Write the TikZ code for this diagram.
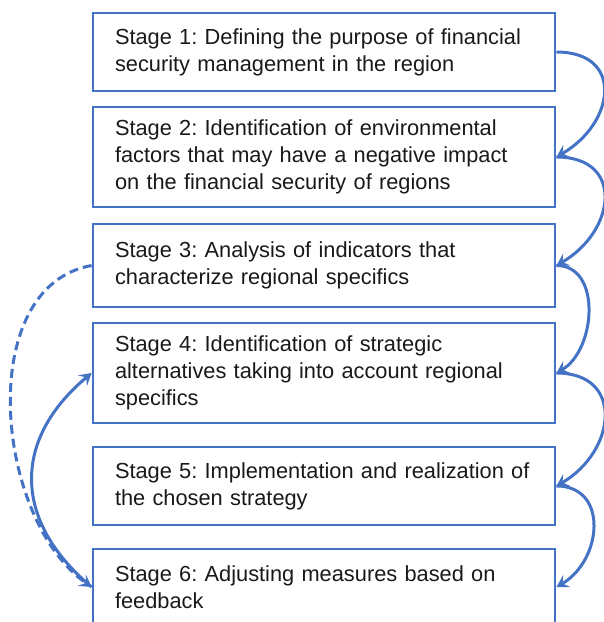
\documentclass[tikz,border=0pt]{standalone}
\usepackage{xcolor}
\usepackage{fontspec}
\setmainfont{Liberation Sans}
\usepackage{tikz}
\usetikzlibrary{arrows.meta}
\definecolor{stageblue}{RGB}{68, 114, 196}

\begin{document}
\frenchspacing
\begin{tikzpicture}[
    x=1pt, y=1pt,
    box/.style={rectangle, draw=stageblue, line width=2.8pt, minimum width=462pt, text width=418pt, inner xsep=22pt, align=left, text=black!90, font=\fontsize{21.8}{27}\selectfont},
    arrow/.style={-{Stealth[length=12pt, width=14pt, inset=5pt]}, draw=stageblue, line width=3pt}
]
    \useasboundingbox (0,0) rectangle (604,-622);
    \clip (0,0) rectangle (604,-622);

    % Stages
    \node[box, minimum height=78pt] (s1) at (324, -52) {Stage 1: Defining the purpose of financial\\security management in the region};
    \node[box, minimum height=100pt] (s2) at (324, -157) {Stage 2: Identification of environmental\\factors that may have a negative impact\\on the financial security of regions};
    \node[box, minimum height=83pt] (s3) at (324, -265.5) {Stage 3: Analysis of indicators that\\characterize regional specifics};
    \node[box, minimum height=100pt] (s4) at (324, -373) {Stage 4: Identification of strategic\\alternatives taking into account regional\\specifics};
    \node[box, minimum height=78pt] (s5) at (324, -486) {\mbox{Stage 5: Implementation and realization of}\\the chosen strategy};
    \node[box, minimum height=76pt] (s6) at (324, -587) {Stage 6: Adjusting measures based on\\feedback};

    % Arrows down the right side
    \draw[arrow] (s1.east) to[out=0, in=30, looseness=1.66] (s2.east);
    \draw[arrow] (s2.east) to[out=0, in=30, looseness=1.62] (s3.east);
    \draw[arrow] (s3.east) to[out=0, in=30, looseness=1.09] (s4.east);
    \draw[arrow] (s4.east) to[out=0, in=30, looseness=1.56] (s5.east);
    \draw[arrow] (s5.east) to[out=0, in=30, looseness=1.34] (s6.east);

    % Feedback arrows on the left
    \draw[arrow, dash pattern=on 9pt off 5pt] (s3.west) to[out=190, in=145, looseness=0.95] (s6.west);
    \draw[arrow] (s6.west) to[out=140, in=220, looseness=1.24] (s4.west);
\end{tikzpicture}
\end{document}
